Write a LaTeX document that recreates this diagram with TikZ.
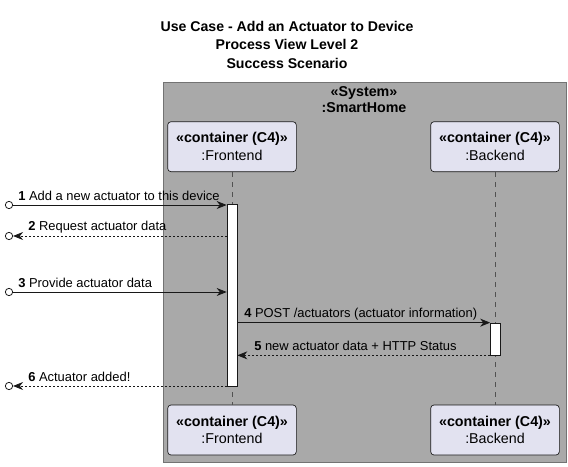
\documentclass[tikz,border=0pt]{standalone}
\usepackage{fontspec}
\setmainfont{Liberation Sans}
\usetikzlibrary{arrows.meta,positioning}
\definecolor{lav}{HTML}{E2E2F0}
\definecolor{sysgray}{HTML}{A9A9A9}
\definecolor{ink}{HTML}{181818}
\tikzset{
	participant/.style={draw=ink, fill=lav, rounded corners=2.5pt, line width=0.5pt, minimum width=96.5pt, minimum height=37.5pt, align=center, inner sep=0pt, font=\fontsize{10.7}{13.2}\selectfont},
	actbar/.style={draw=ink, fill=white, line width=0.5pt, minimum width=7.5pt, inner sep=0pt},
	lifeline/.style={draw=ink!75, line width=0.5pt, dash pattern=on 3.75pt off 3.75pt},
	msg/.style={draw=ink, line width=0.6pt, -{Stealth[length=7.5pt, width=6pt, inset=2.4pt]}},
	ret/.style={msg, dash pattern=on 1.5pt off 1.5pt},
	port/.style={circle, draw=ink, fill=white, line width=0.6pt, minimum size=5.5pt, inner sep=0pt},
	msglabel/.style={anchor=west, inner sep=0pt, font=\fontsize{9.7}{11}\selectfont}
}
\begin{document}
\begin{tikzpicture}[x=0.75pt, y=-0.75pt]
		%%%%% START %%%%%
		\useasboundingbox (0, 0) rectangle (568, 467);
		
		\node[align=center, font=\fontsize{10.6}{13.9}\bfseries\selectfont] (title) at (287, 44.5) {Use Case - Add an Actuator to Device\\Process View Level 2\\Success Scenario};
		
		\draw[draw=black!55, fill=sysgray, line width=0.5pt] (163, 82) rectangle (566, 462);
		\node[align=center, font=\fontsize{10.7}{12}\bfseries\selectfont] (sys) at (364, 100) {«System»\\:SmartHome};
		
		\node[participant] (fe) at (232, 146.7) {\textbf{«container (C4)»}\\:Frontend};
		\node[participant] (be) at (495, 146.7) {\textbf{«container (C4)»}\\:Backend};
		\node[participant] (fe2) at (232, 430) {\textbf{«container (C4)»}\\:Frontend};
		\node[participant] (be2) at (495, 430) {\textbf{«container (C4)»}\\:Backend};
		
		\draw[lifeline] (fe) -- (fe2);
		\draw[lifeline] (be) -- (be2);
		
		\node[actbar, minimum height=136.5pt] (fa) at (232, 295) {};
		\node[actbar, minimum height=24pt] (ba) at (495.5, 339) {};
		
		\node[port] (u1) at (9, 205) {};
		\node[port] (u2) at (9, 236) {};
		\node[port] (u3) at (9, 292) {};
		\node[port] (u6) at (9, 386) {};
		
		\draw[msg] (u1) -- (fa.west |- u1);
		\draw[ret] (fa.west |- u2) -- (u2);
		\draw[msg] (u3) -- (fa.west |- u3);
		\draw[msg] (fa.east |- ba.north) -- (ba.north west);
		\draw[ret] (ba.south west) -- (fa.east |- ba.south);
		\draw[ret] (fa.west |- u6) -- (u6);
		
		\node[msglabel] (m1) at (18, 196) {\textbf{1} Add a new actuator to this device};
		\node[msglabel] (m2) at (28, 227) {\textbf{2} Request actuator data};
		\node[msglabel] (m3) at (18, 283) {\textbf{3} Provide actuator data};
		\node[msglabel] (m4) at (244, 314) {\textbf{4} POST /actuators (actuator information)};
		\node[msglabel] (m5) at (254, 345.5) {\textbf{5} new actuator data + HTTP Status};
		\node[msglabel] (m6) at (28, 377) {\textbf{6} Actuator added!};
		%%%%% END %%%%%
\end{tikzpicture}
\end{document}
